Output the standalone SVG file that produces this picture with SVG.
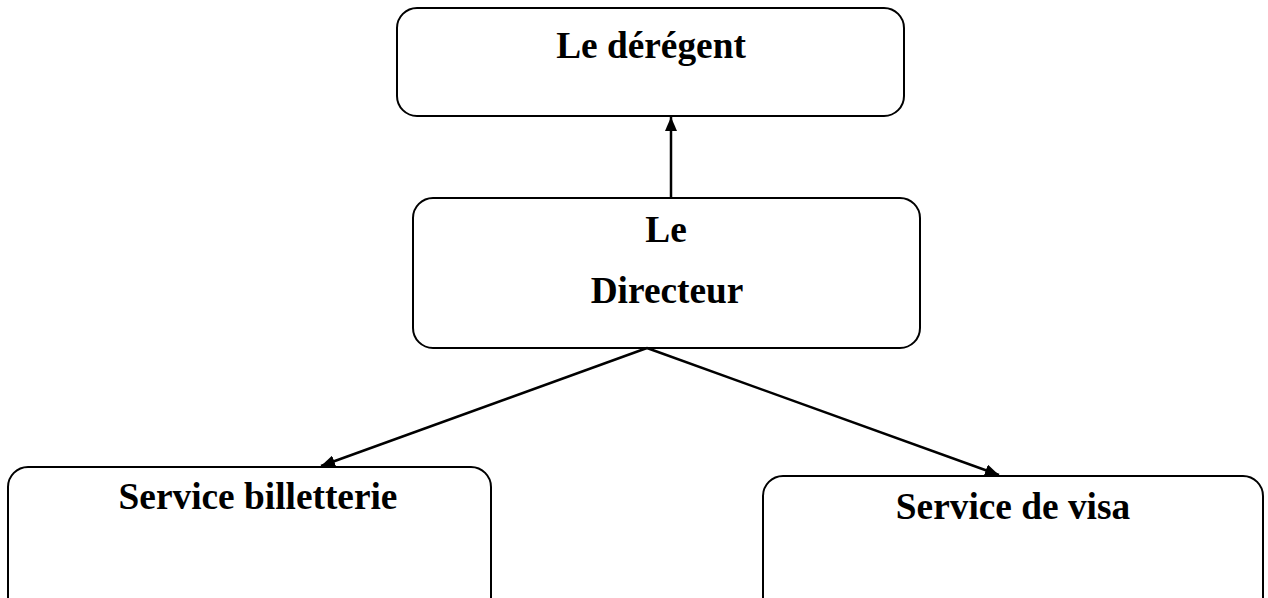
<svg xmlns="http://www.w3.org/2000/svg" width="1268" height="598" viewBox="0 0 1268 598">
<defs>
<style>
.box{fill:#fff;stroke:#000;stroke-width:2}
.lbl{font-family:"Liberation Serif","Times New Roman",serif;font-weight:bold;font-size:37.33px;fill:#000;text-anchor:middle}
.conn{stroke:#000;stroke-width:2.5;fill:none;marker-end:url(#ah)}
</style>
<marker id="ah" viewBox="0 0 14 12" refX="14" refY="6" markerWidth="14" markerHeight="12" markerUnits="userSpaceOnUse" orient="auto">
<path d="M0,0 L14,6 L0,12 z" fill="#000"/>
</marker>
</defs>
<rect width="1268" height="598" fill="#fff"/>
<g id="n-deregent">
<rect class="box" x="397" y="8" width="507" height="108" rx="20"/>
<text class="lbl" x="651" y="58">Le dérégent</text>
</g>
<g id="n-directeur">
<rect class="box" x="413" y="198" width="507" height="150" rx="20"/>
<text class="lbl" x="666" y="242">Le</text>
<text class="lbl" x="667" y="303">Directeur</text>
</g>
<g id="n-billetterie">
<rect class="box" x="8" y="467" width="483" height="160" rx="20"/>
<text class="lbl" x="258" y="509">Service billetterie</text>
</g>
<g id="n-visa">
<rect class="box" x="763" y="476" width="500" height="160" rx="20"/>
<text class="lbl" x="1013" y="519">Service de visa</text>
</g>
<g id="connectors">
<line class="conn" x1="671" y1="198" x2="671" y2="117"/>
<line class="conn" x1="647" y1="348" x2="321" y2="466"/>
<line class="conn" x1="647" y1="348" x2="999" y2="475"/>
</g>
</svg>
